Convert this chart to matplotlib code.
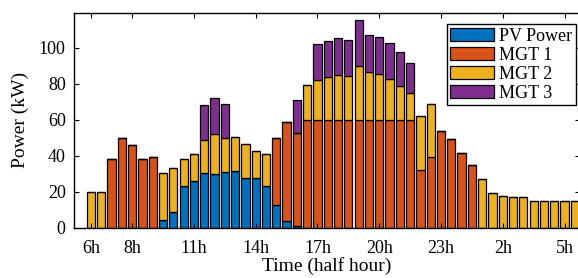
import numpy as np
import matplotlib.pyplot as plt

plt.rcParams['font.family'] = ['Liberation Serif', 'DejaVu Serif']

# half-hour slots from 6h to 5h30 next day
pv = [0, 0, 0, 0, 0, 0, 0, 4, 8.5, 22.9, 26.1, 30.1, 29.8, 30.8, 31.3, 27.3,
      27.3, 23, 12.3, 3.7, 1.1, 0, 0, 0, 0, 0, 0, 0, 0, 0, 0, 0,
      0, 0, 0, 0, 0, 0, 0, 0, 0, 0, 0, 0, 0, 0, 0, 0]
mgt1 = [0, 0, 38, 49.5, 46, 38, 39, 0, 0, 0, 0, 0, 0, 0, 0, 0,
        0, 0, 37.4, 54.8, 51.5, 60, 60, 60, 60, 60, 60, 60, 60, 60, 60, 60,
        32.2, 38.9, 53.9, 49.4, 41.5, 34.8, 0, 0, 0, 0, 0, 0, 0, 0, 0, 0]
mgt2 = [20, 19.5, 0, 0, 0, 0, 0, 26.5, 24.8, 14.9, 15, 18.8, 22.2, 19.1, 18.9, 18.9,
        15, 17.8, 0, 0, 0, 19.2, 22.2, 23.5, 25, 24, 29.8, 26.5, 25.5, 22.6, 18.5, 14.8,
        30, 29.8, 0, 0, 0, 0, 27.2, 18.9, 17.7, 16.7, 17, 15, 15, 15, 15, 15]
mgt3 = [0, 0, 0, 0, 0, 0, 0, 0, 0, 0, 0, 18.9, 19.7, 18.7, 0, 0,
        0, 0, 0, 0, 18, 0, 20, 20, 20.3, 20.4, 25.7, 20.7, 20.6, 19.8, 19.1, 16.7,
        0, 0, 0, 0, 0, 0, 0, 0, 0, 0, 0, 0, 0, 0, 0, 0]

tick_pos = [0, 4, 10, 16, 22, 28, 34, 40, 46]
tick_labels = ['6h', '8h', '11h', '14h', '17h', '20h', '23h', '2h', '5h']

series = [('PV Power', pv, '#0072BD'), ('MGT 1', mgt1, '#D95319'),
          ('MGT 2', mgt2, '#EDB120'), ('MGT 3', mgt3, '#7E2F8E')]

fig = plt.figure(figsize=(5.78, 2.78), dpi=100)
ax = fig.add_axes([74 / 578, 50.5 / 278, 506 / 578, 214.5 / 278])

x = np.arange(len(pv))
bottom = np.zeros(len(pv))
for name, vals, col in series:
    vals = np.array(vals, dtype=float)
    ax.bar(x, vals, 0.8, bottom=bottom, color=col, edgecolor='black',
           linewidth=0.9, label=name)
    bottom += vals

ax.set_xlim(-1.65, 47.5)
ax.set_ylim(0, 119.2)
ax.set_xticks(tick_pos)
ax.set_xticklabels(tick_labels)
ax.set_yticks([0, 20, 40, 60, 80, 100])
ax.tick_params(direction='in', top=True, right=True, length=3.5, labelsize=13)
ax.tick_params(axis='x', pad=9)
ax.tick_params(axis='y', pad=6)
for sp in ax.spines.values():
    sp.set_linewidth(1)

ax.set_xlabel('Time (half hour)', fontsize=14, labelpad=0)
ax.set_ylabel('Power (kW)', fontsize=14, labelpad=7)

ax.legend(loc='upper left', bbox_to_anchor=(446.7 / 578, 1 - 24 / 278),
          bbox_transform=fig.transFigure, borderaxespad=0, fontsize=13,
          fancybox=False, edgecolor='black', framealpha=1,
          handlelength=2.4, handleheight=0.8, labelspacing=0.1,
          handletextpad=0.3, borderpad=0.2)

fig.savefig('out.png', dpi=100)
